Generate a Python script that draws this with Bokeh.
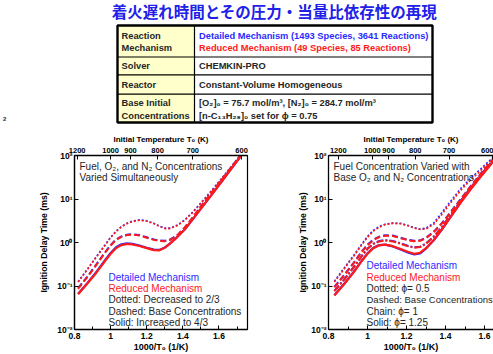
import numpy as np
from bokeh.plotting import figure
from bokeh.layouts import column, row
from bokeh.models import Range1d, LinearAxis, FixedTicker, Label
from bokeh.core.properties import value
from bokeh.embed import file_html
from bokeh.resources import INLINE

FONT = "Liberation Sans"
BLUE = "#2b2bff"
RED = "#ff1a1a"
TXT = "#262626"
TITLE_BLUE = "#2020e8"

# ---------------- data ----------------
title_text = "着火遅れ時間とその圧力・当量比依存性の再現"

table_left = ["Reaction", "Mechanism", "Solver", "Reactor", "Base Initial", "Concentrations"]
table_detailed = "Detailed Mechanism (1493 Species, 3641 Reactions)"
table_reduced = "Reduced Mechanism (49 Species, 85 Reactions)"
table_right = ["CHEMKIN-PRO", "Constant-Volume Homogeneous",
               "[O₂]₀ = 75.7 mol/m³, [N₂]₀ = 284.7 mol/m³",
               "[n-C₁₃H₂₈]₀ set for ϕ = 0.75"]

x_ticks_bottom = [0.8, 1.0, 1.2, 1.4, 1.6]
x_tick_labels_bottom = ["0.8", "1", "1.2", "1.4", "1.6"]
x_minor_bottom = [0.9, 1.1, 1.3, 1.5, 1.7]
y_ticks = [0.01, 0.1, 1, 10, 100]
y_tick_labels = ["10⁻²", "10⁻¹", "10⁰", "10¹", "10²"]
top_temps = ["1200", "1000", "900", "800", "700", "600"]
top_pos_left = [0.815, 1.0, 1.11, 1.26, 1.455, 1.725]
top_pos_right = [0.85, 1.025, 1.108, 1.245, 1.418, 1.641]

# Left panel: fuel, O2, N2 varied simultaneously (log10 of delay in ms)
left_x = [0.82, 0.87, 0.92, 0.97, 1.00, 1.03, 1.06, 1.09, 1.12, 1.16, 1.20, 1.24,
          1.27, 1.30, 1.33, 1.37, 1.41, 1.45, 1.50, 1.56, 1.62, 1.68, 1.74]
left_dot_red = [-0.91, -0.63, -0.34, -0.06, 0.11, 0.25, 0.36, 0.43, 0.48, 0.51, 0.49, 0.43,
                0.37, 0.32, 0.32, 0.39, 0.51, 0.67, 0.90, 1.19, 1.49, 1.80, 2.12]
left_dot_blue = [-0.90, -0.62, -0.33, -0.05, 0.12, 0.26, 0.37, 0.44, 0.49, 0.52, 0.50, 0.44,
                 0.38, 0.33, 0.33, 0.40, 0.52, 0.68, 0.91, 1.20, 1.50, 1.81, 2.12]
left_dash_red = [-1.065, -0.80, -0.52, -0.23, -0.07, 0.06, 0.13, 0.17, 0.18, 0.16, 0.11, 0.06,
                 0.035, 0.03, 0.06, 0.17, 0.34, 0.55, 0.83, 1.15, 1.47, 1.79, 2.11]
left_dash_blue = [-1.05, -0.79, -0.51, -0.22, -0.06, 0.07, 0.14, 0.18, 0.19, 0.17, 0.12, 0.07,
                  0.045, 0.04, 0.07, 0.17, 0.34, 0.55, 0.83, 1.15, 1.47, 1.79, 2.11]
left_solid_red = [-1.19, -0.95, -0.70, -0.42, -0.26, -0.13, -0.06, -0.035, -0.045, -0.08, -0.13, -0.175,
                  -0.18, -0.12, -0.02, 0.13, 0.30, 0.51, 0.78, 1.10, 1.43, 1.76, 2.09]
left_solid_blue = [-1.18, -0.94, -0.68, -0.40, -0.24, -0.11, -0.04, -0.02, -0.03, -0.07, -0.12, -0.165,
                   -0.17, -0.115, -0.02, 0.13, 0.30, 0.51, 0.78, 1.10, 1.43, 1.76, 2.09]

# Right panel: fuel varied with base O2 and N2 (log10 of delay in ms)
right_x = [0.83, 0.88, 0.93, 0.97, 1.00, 1.03, 1.06, 1.09, 1.13, 1.17, 1.21, 1.24,
           1.27, 1.30, 1.34, 1.38, 1.43, 1.48, 1.53, 1.58, 1.63, 1.67]
right_dot_red = [-0.91, -0.61, -0.31, -0.06, 0.12, 0.26, 0.35, 0.41, 0.44, 0.43, 0.38, 0.33,
                 0.30, 0.31, 0.42, 0.64, 0.93, 1.21, 1.44, 1.65, 1.87, 2.05]
right_dot_blue = [-0.89, -0.59, -0.29, -0.04, 0.14, 0.28, 0.37, 0.42, 0.45, 0.44, 0.39, 0.34,
                  0.31, 0.33, 0.45, 0.68, 0.97, 1.25, 1.48, 1.69, 1.90, 2.07]
right_dash_red = [-1.03, -0.76, -0.47, -0.22, -0.06, 0.06, 0.125, 0.155, 0.15, 0.10, 0.05, 0.03,
                  0.04, 0.10, 0.24, 0.43, 0.71, 1.00, 1.29, 1.57, 1.83, 2.04]
right_dash_blue = [-1.02, -0.75, -0.46, -0.21, -0.05, 0.07, 0.135, 0.165, 0.16, 0.11, 0.06, 0.04,
                   0.05, 0.11, 0.25, 0.44, 0.72, 1.01, 1.30, 1.58, 1.84, 2.05]
right_chain_red = [-1.12, -0.86, -0.57, -0.32, -0.15, -0.035, 0.025, 0.045, 0.025, -0.03, -0.09, -0.12,
                   -0.105, -0.03, 0.13, 0.34, 0.65, 0.96, 1.26, 1.54, 1.81, 2.02]
right_chain_blue = [-1.11, -0.85, -0.56, -0.31, -0.14, -0.025, 0.035, 0.055, 0.035, -0.02, -0.08, -0.11,
                    -0.095, -0.02, 0.14, 0.35, 0.66, 0.97, 1.27, 1.55, 1.82, 2.03]
right_solid_red = [-1.22, -0.96, -0.68, -0.43, -0.26, -0.13, -0.065, -0.05, -0.085, -0.15, -0.22, -0.26,
                   -0.235, -0.13, 0.06, 0.29, 0.61, 0.93, 1.23, 1.51, 1.78, 2.00]
right_solid_blue = [-1.21, -0.95, -0.67, -0.42, -0.25, -0.12, -0.06, -0.05, -0.09, -0.16, -0.235, -0.275,
                    -0.25, -0.14, 0.05, 0.29, 0.61, 0.94, 1.24, 1.52, 1.79, 2.01]

# ---------------- helpers ----------------
def Y(py):
    return 10 ** (2 - (py - 155) / 43.5)

def LX(px):
    return 0.8 + (px - 74) / 180.6

def RX(px):
    return 0.8 + (px - 328) / 195.0


def style_axis(ax, label_size="8.5px", title_size="9px"):
    ax.axis_line_color = "black"
    ax.axis_line_width = 1.3
    ax.major_tick_in = 4
    ax.major_tick_out = 0
    ax.minor_tick_in = 3
    ax.minor_tick_out = 0
    ax.major_tick_line_color = "black"
    ax.minor_tick_line_color = "black"
    ax.major_label_text_font = FONT
    ax.major_label_text_font_style = "bold"
    ax.major_label_text_font_size = label_size
    ax.major_label_text_color = "black"
    ax.axis_label_text_font = FONT
    ax.axis_label_text_font_style = "bold"
    ax.axis_label_text_font_size = title_size
    ax.axis_label_text_color = "black"


def make_panel(width, border_left, border_right, x_end, top_pos, ylabel_standoff, outline):
    p = figure(width=width, height=224, x_range=Range1d(0.8, x_end), y_range=Range1d(0.01, 100),
               y_axis_type="log", toolbar_location=None, output_backend="svg",
               min_border_left=border_left, min_border_right=border_right,
               min_border_top=25, min_border_bottom=25)
    p.grid.visible = False
    p.background_fill_color = "white"
    p.border_fill_color = "white"
    if outline:
        p.outline_line_color = "black"
        p.outline_line_width = 1.2
    else:
        p.outline_line_color = None
    xa = p.xaxis[0]
    xa.ticker = FixedTicker(ticks=x_ticks_bottom, minor_ticks=x_minor_bottom)
    xa.major_label_overrides = dict(zip(x_ticks_bottom, x_tick_labels_bottom))
    xa.axis_label = "1000/T₀ (1/K)"
    xa.major_label_standoff = 3
    xa.axis_label_standoff = 0
    style_axis(xa)
    ya = p.yaxis[0]
    ya.ticker = FixedTicker(ticks=y_ticks, minor_ticks=[])
    ya.major_label_overrides = dict(zip(y_ticks, y_tick_labels))
    ya.axis_label = "Ignition Delay Time (ms)"
    ya.major_label_standoff = 2
    ya.axis_label_standoff = ylabel_standoff
    style_axis(ya, title_size="8.7px")
    ta = LinearAxis(ticker=FixedTicker(ticks=top_pos, minor_ticks=[]),
                    major_label_overrides=dict(zip(top_pos, top_temps)),
                    axis_label="Initial Temperature T₀ (K)")
    ta.major_label_standoff = 3
    ta.axis_label_standoff = 1
    style_axis(ta, label_size="7.5px", title_size="8px")
    p.add_layout(ta, "above")
    return p


def curve(p, xs, logs, color, dash, width):
    p.line(xs, 10 ** np.array(logs), line_color=color, line_dash=dash, line_width=width)


def add_label(p, x, y, text, color=TXT, size="10px"):
    p.add_layout(Label(x=x, y=y, text=text, text_color=color, text_font=FONT,
                       text_font_size=size, text_baseline="middle", text_align="left"))

# ---------------- top: title + table ----------------
top = figure(width=493, height=130, x_range=Range1d(0, 493), y_range=Range1d(130, 0),
             toolbar_location=None, output_backend="svg", min_border=0)
top.axis.visible = False
top.grid.visible = False
top.outline_line_color = None

top.text(x=[274], y=[10], text=[title_text], text_font=value("Noto Sans CJK JP"),
         text_font_style="bold", text_font_size="15.5px", text_color=TITLE_BLUE,
         text_align="center", text_baseline="middle")

T_L, T_R, T_T, T_B, T_C = 117, 432, 25, 122, 194
row_lines = [56.5, 74.3, 93.7]
top.quad(left=[T_L], right=[T_C], top=[T_T], bottom=[T_B], fill_color="#ffffcc", line_color=None)
top.segment(x0=[T_L] * 3, x1=[T_R] * 3, y0=row_lines, y1=row_lines, line_color="black", line_width=1.2)
top.segment(x0=[T_C], x1=[T_C], y0=[T_T], y1=[T_B], line_color="black", line_width=1.2)
top.quad(left=[T_L], right=[T_R], top=[T_T], bottom=[T_B], fill_color=None,
         line_color="black", line_width=2.4)

tfs = "9.3px"
top.text(x=[121] * 6, y=[35.7, 47.3, 65.2, 84.0, 102.7, 115.0], text=table_left,
         text_font=value(FONT), text_font_style="bold", text_font_size=tfs,
         text_color=TXT, text_baseline="middle")
top.text(x=[198.5], y=[35.7], text=[table_detailed], text_font=value(FONT), text_font_style="bold",
         text_font_size=tfs, text_color=BLUE, text_baseline="middle")
top.text(x=[198.5], y=[47.3], text=[table_reduced], text_font=value(FONT), text_font_style="bold",
         text_font_size=tfs, text_color=RED, text_baseline="middle")
top.text(x=[198.5] * 4, y=[65.2, 84.0, 102.7, 115.0], text=table_right, text_font=value(FONT),
         text_font_style="bold", text_font_size=tfs, text_color=TXT, text_baseline="middle")
top.text(x=[2.5], y=[118], text=["2"], text_font=value(FONT), text_font_style="bold",
         text_font_size="6px", text_color=TXT, text_baseline="middle")

# ---------------- left panel ----------------
pl = make_panel(262, 74, 15, 0.8 + 173 / 180.6, top_pos_left, 5, True)
curve(pl, left_x, left_dot_blue, BLUE, "2 2", 1.6)
curve(pl, left_x, left_dash_blue, BLUE, "6 3", 2)
curve(pl, left_x, left_solid_blue, BLUE, "solid", 2.2)
curve(pl, left_x, left_dot_red, RED, "2 2", 1.6)
curve(pl, left_x, left_dash_red, RED, "6 3", 2)
curve(pl, left_x, left_solid_red, RED, "solid", 2.2)

add_label(pl, LX(79), Y(165.5), "Fuel, O₂, and N₂ Concentrations")
add_label(pl, LX(79), Y(176.5), "Varied Simultaneously")
left_legend = [("Detailed Mechanism", BLUE), ("Reduced Mechanism", RED),
               ("Dotted: Decreased to 2/3", TXT), ("Dashed: Base Concentrations", TXT),
               ("Solid: Increased to 4/3", TXT)]
for (t, c), py in zip(left_legend, [276.7, 287.9, 299.3, 310.6, 322.0]):
    add_label(pl, LX(108), Y(py), t, c)

# ---------------- right panel ----------------
pr = make_panel(231, 66, 0, 0.8 + 165 / 195.0, top_pos_right, 0, False)
curve(pr, right_x, right_dot_blue, BLUE, "2 2", 1.6)
curve(pr, right_x, right_dash_blue, BLUE, "6 3", 2)
curve(pr, right_x, right_chain_blue, BLUE, "7 2 2 2", 2)
curve(pr, right_x, right_solid_blue, BLUE, "solid", 2.2)
curve(pr, right_x, right_dot_red, RED, "2 2", 1.6)
curve(pr, right_x, right_dash_red, RED, "6 3", 2)
curve(pr, right_x, right_chain_red, RED, "7 2 2 2", 2)
curve(pr, right_x, right_solid_red, RED, "solid", 2.2)

add_label(pr, RX(333), Y(165.5), "Fuel Concentration Varied with")
add_label(pr, RX(333), Y(176.5), "Base O₂ and N₂ Concentrations")
right_legend = [("Detailed Mechanism", BLUE), ("Reduced Mechanism", RED),
                ("Dotted: ϕ= 0.5", TXT), ("Chain: ϕ= 1", TXT), ("Solid: ϕ= 1.25", TXT)]
for (t, c), py in zip(right_legend, [265.0, 276.7, 287.9, 310.6, 322.0]):
    add_label(pr, RX(366), Y(py), t, c)
pr.text(x=[RX(366)], y=[Y(299.3)], text=["Dashed: Base Concentrations"], text_font=value(FONT),
        text_font_size="9.5px", text_color=TXT, text_baseline="middle", text_align="left")

layout = column(top, row(pl, pr, spacing=0), spacing=0)

open("out.html", "w").write(file_html(layout, INLINE))
